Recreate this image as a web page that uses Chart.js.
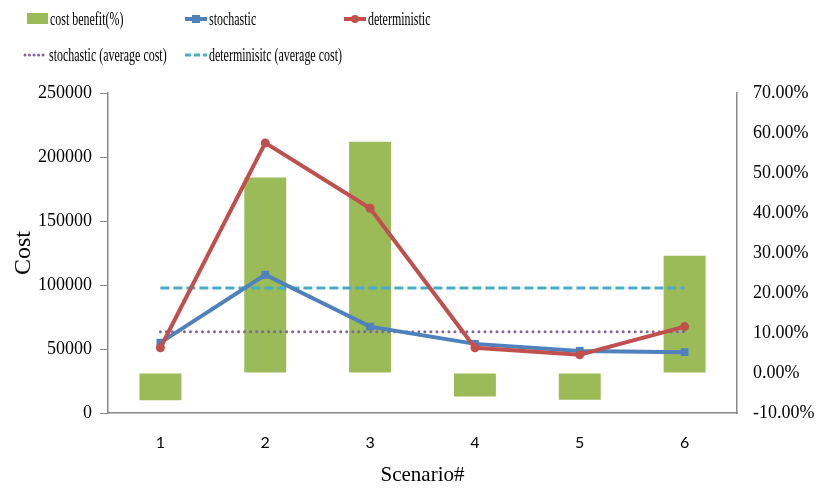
<!DOCTYPE html>
<html lang="en">
<head>
    <meta charset="UTF-8">
    <title>Cost by scenario</title>
    <script src="https://cdn.jsdelivr.net/npm/chart.js"></script>
    <style>
        body {
            margin: 0;
            background-color: #ffffff;
        }
        #wrap {
            width: 817px;
            height: 491px;
        }
    </style>
</head>
<body>
    <div id="wrap">
        <canvas id="costChart" width="817" height="491"></canvas>
    </div>

    <script>
        // Data
        const scenarios = ['1', '2', '3', '4', '5', '6'];
        const costBenefit = [-6.8, 48.9, 57.8, -5.9, -6.7, 29.3];   // percent, right axis
        const stochastic = [55000, 108000, 67500, 54000, 48500, 47500];
        const deterministic = [51000, 211000, 160000, 51000, 45500, 67500];
        const stochasticAvg = [63400, 63400, 63400, 63400, 63400, 63400];
        const deterministicAvg = [97700, 97700, 97700, 97700, 97700, 97700];
        const costTicks = [0, 50000, 100000, 150000, 200000, 250000];
        const percentTicks = [-10, 0, 10, 20, 30, 40, 50, 60, 70];

        const GREEN = '#9BBB59';
        const BLUE = '#4F81BD';
        const RED = '#C0504D';
        const PURPLE = '#8064A2';
        const CYAN = '#4BACC6';
        const AXIS = '#898989';
        const SERIF = '"Liberation Serif", "Times New Roman", serif';

        // Legend drawn by hand: two rows, fixed columns, narrow serif text
        const legendItems = [
            { text: 'cost benefit(%)', x: 27, y: 19, kind: 'box', color: GREEN },
            { text: 'stochastic', x: 185, y: 19, kind: 'rect', color: BLUE },
            { text: 'deterministic', x: 344, y: 19, kind: 'circle', color: RED },
            { text: 'stochastic (average cost)', x: 25, y: 55, kind: 'dots', color: PURPLE },
            { text: 'determinisitc (average cost)', x: 185, y: 55, kind: 'dash', color: CYAN }
        ];

        const legendPlugin = {
            id: 'handLegend',
            afterDraw(chart) {
                const ctx = chart.ctx;
                legendItems.forEach(item => {
                    ctx.save();
                    const w = 22;
                    if (item.kind === 'box') {
                        ctx.fillStyle = item.color;
                        ctx.fillRect(item.x, item.y - 6, 21, 11);
                    } else {
                        ctx.strokeStyle = item.color;
                        ctx.lineWidth = item.kind === 'rect' || item.kind === 'circle' ? 4 : 3;
                        if (item.kind === 'dots') {
                            ctx.lineCap = 'round';
                            ctx.setLineDash([0.01, 4.5]);
                        } else if (item.kind === 'dash') {
                            ctx.setLineDash([6, 3]);
                        }
                        ctx.beginPath();
                        ctx.moveTo(item.x, item.y);
                        ctx.lineTo(item.x + w, item.y);
                        ctx.stroke();
                        ctx.setLineDash([]);
                        ctx.fillStyle = item.color;
                        if (item.kind === 'rect') {
                            ctx.fillRect(item.x + w / 2 - 4, item.y - 4, 8, 8);
                        } else if (item.kind === 'circle') {
                            ctx.beginPath();
                            ctx.arc(item.x + w / 2, item.y, 4, 0, Math.PI * 2);
                            ctx.fill();
                        }
                    }
                    ctx.fillStyle = '#000';
                    ctx.font = '19px ' + SERIF;
                    ctx.textBaseline = 'middle';
                    ctx.translate(item.kind === 'box' ? 50 : item.x + 24, item.y + 1);
                    ctx.scale(0.63, 1);
                    ctx.fillText(item.text, 0, 0);
                    ctx.restore();
                });
            }
        };

        const ctx = document.getElementById('costChart').getContext('2d');
        const costChart = new Chart(ctx, {
            type: 'bar',
            data: {
                labels: scenarios,
                datasets: [
                    {
                        label: 'deterministic',
                        type: 'line',
                        data: deterministic,
                        yAxisID: 'y',
                        borderColor: RED,
                        backgroundColor: RED,
                        borderWidth: 4,
                        pointStyle: 'circle',
                        pointRadius: 4.5,
                        pointBorderWidth: 0,
                        order: 1
                    },
                    {
                        label: 'stochastic',
                        type: 'line',
                        data: stochastic,
                        yAxisID: 'y',
                        borderColor: BLUE,
                        backgroundColor: BLUE,
                        borderWidth: 4,
                        pointStyle: 'rect',
                        pointRadius: 5.5,
                        pointBorderWidth: 0,
                        order: 2
                    },
                    {
                        label: 'determinisitc (average cost)',
                        type: 'line',
                        data: deterministicAvg,
                        yAxisID: 'y',
                        borderColor: CYAN,
                        borderWidth: 3,
                        borderDash: [9, 4],
                        pointRadius: 0,
                        order: 3
                    },
                    {
                        label: 'stochastic (average cost)',
                        type: 'line',
                        data: stochasticAvg,
                        yAxisID: 'y',
                        borderColor: PURPLE,
                        borderWidth: 3,
                        borderDash: [0.01, 6],
                        borderCapStyle: 'round',
                        pointRadius: 0,
                        order: 4
                    },
                    {
                        label: 'cost benefit(%)',
                        data: costBenefit,
                        yAxisID: 'y1',
                        backgroundColor: GREEN,
                        borderWidth: 0,
                        categoryPercentage: 1.0,
                        barPercentage: 0.4,
                        order: 5
                    }
                ]
            },
            options: {
                responsive: false,
                animation: false,
                layout: {
                    padding: { top: 93, left: 0, right: 0, bottom: 0 }
                },
                plugins: {
                    legend: { display: false },
                    tooltip: { enabled: false }
                },
                scales: {
                    x: {
                        offset: true,
                        grid: { display: false, drawTicks: false },
                        border: { display: true, color: AXIS, width: 1.5 },
                        ticks: {
                            color: '#000',
                            padding: 20,
                            font: { family: 'Lato, "Open Sans", sans-serif', size: 16 }
                        },
                        title: {
                            display: true,
                            text: 'Scenario#',
                            color: '#000',
                            padding: { top: 0, bottom: 3 },
                            font: { family: SERIF, size: 21 }
                        },
                        afterFit(scale) { scale.height = 78; }
                    },
                    y: {
                        position: 'left',
                        min: 0,
                        max: 250000,
                        afterBuildTicks(scale) {
                            scale.ticks = costTicks.map(v => ({ value: v }));
                        },
                        grid: {
                            drawOnChartArea: false,
                            drawTicks: true,
                            tickLength: 8,
                            color: AXIS
                        },
                        border: { display: true, color: AXIS, width: 1.5 },
                        ticks: {
                            color: '#000',
                            padding: 8,
                            font: { family: SERIF, size: 18 },
                            callback: v => String(v)
                        },
                        title: {
                            display: true,
                            text: 'Cost',
                            color: '#000',
                            padding: { top: 9, bottom: 0 },
                            font: { family: SERIF, size: 24 }
                        },
                        afterFit(scale) { scale.width = 108; }
                    },
                    y1: {
                        position: 'right',
                        min: -10,
                        max: 70,
                        afterBuildTicks(scale) {
                            scale.ticks = percentTicks.map(v => ({ value: v }));
                        },
                        grid: {
                            drawOnChartArea: false,
                            drawTicks: false
                        },
                        border: { display: true, color: AXIS, width: 1.5 },
                        ticks: {
                            color: '#000',
                            padding: 16,
                            font: { family: SERIF, size: 18 },
                            callback: v => v.toFixed(2) + '%'
                        },
                        afterFit(scale) { scale.width = 80; }
                    }
                }
            },
            plugins: [legendPlugin]
        });
    </script>
</body>
</html>
